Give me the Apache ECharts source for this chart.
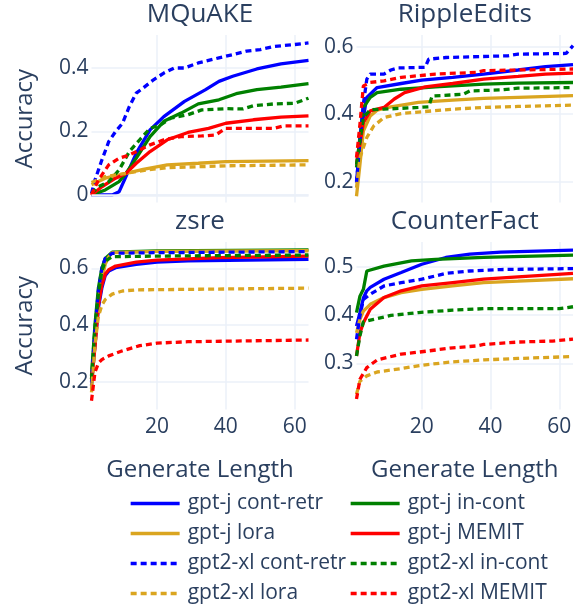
<!DOCTYPE html>
<html>
<head>
<meta charset="utf-8">
<script src="https://cdn.jsdelivr.net/npm/echarts@6.0.0/dist/echarts.min.js"></script>
<style>
  html, body { margin: 0; padding: 0; background: #fff; }
  #chart { width: 580px; height: 610px; }
</style>
</head>
<body>
<div id="chart"></div>
<script>
// 子图标题 / 图例名称
const panelNames = ['MQuAKE', 'RippleEdits', 'zsre', 'CounterFact']
const methods = ['gpt-j cont-retr', 'gpt-j in-cont', 'gpt-j lora', 'gpt-j MEMIT',
  'gpt2-xl cont-retr', 'gpt2-xl in-cont', 'gpt2-xl lora', 'gpt2-xl MEMIT']

// 刻度
const xTicks = [20, 40, 60]
const mqTicks = [0, 0.2, 0.4]
const reTicks = [0.2, 0.4, 0.6]
const zsTicks = [0.2, 0.4, 0.6]
const cfTicks = [0.3, 0.4, 0.5]

// MQuAKE  [generate length, accuracy]
const mqJRetr = [[1, 0], [7, 0], [9, 0.01], [11, 0.058], [14, 0.132], [18, 0.205], [22, 0.247], [28, 0.295], [34, 0.331], [38, 0.358], [42, 0.374], [49, 0.397], [56, 0.413], [64, 0.424]]
const mqJIncont = [[1, 0], [5, 0.016], [9, 0.042], [11, 0.068], [14, 0.116], [18, 0.184], [22, 0.232], [27, 0.258], [32, 0.287], [38, 0.3], [43, 0.319], [49, 0.332], [56, 0.34], [64, 0.351]]
const mqJLora = [[1, 0.032], [5, 0.053], [11, 0.068], [16, 0.081], [23, 0.095], [32, 0.1], [40, 0.105], [64, 0.108]]
const mqJMemit = [[1, 0], [4, 0.026], [8, 0.053], [11, 0.068], [14, 0.1], [18, 0.137], [23, 0.174], [29, 0.197], [35, 0.21], [40, 0.226], [48, 0.237], [56, 0.245], [64, 0.249]]
const mq2Retr = [[1, 0.005], [2, 0.047], [4, 0.11], [6, 0.168], [8, 0.2], [10, 0.226], [12, 0.279], [14, 0.321], [16, 0.337], [19, 0.363], [22, 0.384], [25, 0.4], [28, 0.4], [32, 0.416], [38, 0.432], [42, 0.442], [46, 0.453], [50, 0.458], [54, 0.468], [60, 0.474], [64, 0.479]]
const mq2Incont = [[1, 0.005], [3, 0.026], [6, 0.042], [9, 0.079], [12, 0.137], [15, 0.174], [18, 0.21], [21, 0.221], [24, 0.242], [29, 0.253], [33, 0.268], [40, 0.272], [45, 0.271], [48, 0.281], [54, 0.287], [60, 0.289], [64, 0.305]]
const mq2Lora = [[1, 0.039], [5, 0.058], [11, 0.068], [17, 0.079], [23, 0.086], [32, 0.089], [40, 0.092], [64, 0.095]]
const mq2Memit = [[1, 0], [3, 0.047], [6, 0.095], [9, 0.116], [12, 0.126], [15, 0.142], [18, 0.158], [22, 0.174], [27, 0.184], [33, 0.186], [37, 0.189], [40, 0.21], [46, 0.21], [54, 0.21], [57, 0.218], [64, 0.218]]

// RippleEdits
const reJRetr = [[1, 0.202], [2, 0.3], [3, 0.39], [4, 0.45], [7, 0.479], [14, 0.491], [20, 0.501], [29, 0.509], [38, 0.519], [48, 0.531], [56, 0.541], [64, 0.547]]
const reJIncont = [[1, 0.242], [2, 0.331], [3, 0.42], [5, 0.45], [7, 0.464], [14, 0.474], [24, 0.481], [38, 0.489], [48, 0.492], [64, 0.494]]
const reJLora = [[1, 0.157], [2, 0.251], [3, 0.35], [5, 0.395], [7, 0.412], [11, 0.422], [19, 0.435], [29, 0.442], [38, 0.447], [48, 0.45], [64, 0.455]]
const reJMemit = [[1, 0.251], [2, 0.311], [3, 0.375], [5, 0.41], [9, 0.42], [12, 0.445], [15, 0.464], [21, 0.481], [29, 0.491], [38, 0.504], [48, 0.512], [56, 0.519], [64, 0.522]]
const re2Retr = [[1, 0.197], [2, 0.321], [3, 0.43], [4, 0.504], [5, 0.519], [9, 0.519], [11, 0.531], [13, 0.537], [21, 0.539], [22, 0.563], [27, 0.568], [45, 0.573], [48, 0.578], [62, 0.58], [64, 0.603]]
const re2Incont = [[1, 0.251], [2, 0.321], [3, 0.39], [5, 0.413], [9, 0.415], [19, 0.42], [22, 0.422], [23, 0.454], [32, 0.459], [34, 0.469], [43, 0.472], [48, 0.477], [64, 0.479]]
const re2Lora = [[1, 0.182], [2, 0.271], [4, 0.331], [6, 0.365], [9, 0.39], [14, 0.402], [21, 0.408], [29, 0.415], [38, 0.42], [48, 0.423], [64, 0.427]]
const re2Memit = [[1, 0.271], [2, 0.37], [3, 0.484], [5, 0.494], [9, 0.499], [14, 0.509], [24, 0.519], [36, 0.524], [38, 0.529], [48, 0.531], [64, 0.534]]

// zsre
const zsJRetr = [[1, 0.186], [2, 0.33], [3, 0.46], [4, 0.53], [5, 0.575], [6, 0.59], [8, 0.602], [14, 0.614], [20, 0.622], [29, 0.626], [64, 0.632]]
const zsJIncont = [[1, 0.221], [2, 0.4], [3, 0.53], [4, 0.6], [5, 0.635], [7, 0.657], [20, 0.661], [64, 0.665]]
const zsJLora = [[1, 0.174], [2, 0.34], [3, 0.48], [4, 0.56], [5, 0.615], [6, 0.64], [7, 0.655], [20, 0.66], [64, 0.662]]
const zsJMemit = [[1, 0.209], [2, 0.32], [3, 0.47], [4, 0.54], [5, 0.58], [6, 0.595], [8, 0.608], [14, 0.622], [20, 0.629], [38, 0.638], [64, 0.643]]
const zs2Retr = [[1, 0.198], [2, 0.38], [3, 0.52], [4, 0.6], [5, 0.635], [7, 0.653], [19, 0.655], [64, 0.659]]
const zs2Incont = [[1, 0.209], [2, 0.39], [3, 0.51], [4, 0.59], [5, 0.625], [7, 0.641], [19, 0.643], [64, 0.647]]
const zs2Lora = [[1, 0.162], [2, 0.33], [3, 0.43], [4, 0.47], [5, 0.49], [7, 0.509], [10, 0.52], [14, 0.524], [64, 0.53]]
const zs2Memit = [[1, 0.133], [2, 0.233], [3, 0.265], [4, 0.278], [6, 0.291], [10, 0.309], [15, 0.327], [20, 0.336], [29, 0.341], [64, 0.347]]

// CounterFact
const cfJRetr = [[1, 0.377], [2, 0.405], [3, 0.435], [4, 0.45], [5, 0.457], [9, 0.474], [14, 0.488], [20, 0.505], [27, 0.519], [34, 0.526], [43, 0.53], [64, 0.534]]
const cfJIncont = [[1, 0.405], [2, 0.439], [3, 0.453], [4, 0.491], [9, 0.501], [17, 0.512], [24, 0.515], [38, 0.519], [64, 0.524]]
const cfJLora = [[1, 0.363], [2, 0.391], [3, 0.408], [5, 0.422], [9, 0.436], [14, 0.446], [20, 0.453], [29, 0.46], [38, 0.467], [48, 0.47], [64, 0.475]]
const cfJMemit = [[1, 0.315], [2, 0.363], [3, 0.384], [5, 0.412], [9, 0.436], [14, 0.45], [20, 0.46], [29, 0.467], [38, 0.474], [48, 0.479], [64, 0.486]]
const cf2Retr = [[1, 0.35], [2, 0.398], [3, 0.432], [5, 0.443], [9, 0.46], [14, 0.467], [20, 0.474], [27, 0.486], [34, 0.491], [43, 0.494], [64, 0.496]]
const cf2Incont = [[1, 0.315], [2, 0.357], [3, 0.386], [6, 0.391], [11, 0.399], [19, 0.405], [29, 0.41], [38, 0.413], [60, 0.413], [64, 0.417]]
const cf2Lora = [[1, 0.236], [2, 0.263], [4, 0.274], [7, 0.282], [14, 0.289], [20, 0.296], [29, 0.303], [38, 0.307], [48, 0.31], [64, 0.314]]
const cf2Memit = [[1, 0.226], [2, 0.267], [4, 0.291], [7, 0.307], [14, 0.319], [19, 0.323], [29, 0.332], [36, 0.336], [38, 0.339], [48, 0.344], [58, 0.346], [64, 0.35]]

const panelSeries = [
  [mqJRetr, mqJIncont, mqJLora, mqJMemit, mq2Retr, mq2Incont, mq2Lora, mq2Memit],
  [reJRetr, reJIncont, reJLora, reJMemit, re2Retr, re2Incont, re2Lora, re2Memit],
  [zsJRetr, zsJIncont, zsJLora, zsJMemit, zs2Retr, zs2Incont, zs2Lora, zs2Memit],
  [cfJRetr, cfJIncont, cfJLora, cfJMemit, cf2Retr, cf2Incont, cf2Lora, cf2Memit]
]
const panelTicks = [mqTicks, reTicks, zsTicks, cfTicks]

// 布局
const textColor = '#2a3f5f'
const gridColor = '#ebf0f8'
const font = 'Open Sans'
const lineColors = ['#0000ff', '#008000', '#daa520', '#ff0000']
const grids = [
  {left: 91.5, top: 35, width: 217, height: 167.5},
  {left: 356.5, top: 35, width: 216.5, height: 167.5},
  {left: 91.5, top: 242, width: 217, height: 167.5},
  {left: 356.5, top: 242, width: 216.5, height: 167.5}
]
const yRanges = [[-0.0236, 0.504], [0.1384, 0.6347], [0.1019, 0.6928], [0.2044, 0.551]]

const xAxis = grids.map((g, i) => ({
  type: 'value',
  gridIndex: i,
  min: 1,
  max: 64,
  name: i >= 2 ? 'Generate Length' : '',
  nameLocation: 'middle',
  nameGap: 49,
  nameTextStyle: {color: textColor, fontFamily: font, fontSize: 24},
  axisLine: {show: false},
  axisTick: {show: false, customValues: xTicks},
  axisLabel: {show: i >= 2, customValues: xTicks, color: textColor, fontFamily: font, fontSize: 21, margin: 7},
  splitLine: {show: true, lineStyle: {color: gridColor, width: 1.5}}
}))

const yAxis = grids.map((g, i) => ({
  type: 'value',
  gridIndex: i,
  min: yRanges[i][0],
  max: yRanges[i][1],
  name: i % 2 === 0 ? 'Accuracy' : '',
  nameLocation: 'middle',
  nameGap: 54,
  nameTextStyle: {color: textColor, fontFamily: font, fontSize: 24},
  axisLine: {show: false},
  axisTick: {show: false, customValues: panelTicks[i]},
  axisLabel: {customValues: panelTicks[i], color: textColor, fontFamily: font, fontSize: 21, margin: 3},
  splitLine: {show: true, lineStyle: {color: gridColor, width: 1.5}}
}))

const series = []
// MQuAKE 的 0 线（比网格线粗一点）
series.push({
  type: 'line',
  xAxisIndex: 0,
  yAxisIndex: 0,
  data: [],
  z: 1,
  silent: true,
  markLine: {
    silent: true,
    symbol: 'none',
    label: {show: false},
    lineStyle: {color: gridColor, width: 2.5, type: 'solid'},
    data: [{yAxis: 0}]
  }
})
panelSeries.forEach((list, p) => {
  list.forEach((data, k) => {
    series.push({
      name: methods[k],
      type: 'line',
      xAxisIndex: p,
      yAxisIndex: p,
      data: data,
      symbol: 'none',
      showSymbol: false,
      silent: true,
      animation: false,
      lineStyle: {
        color: lineColors[k % 4],
        width: 3.3,
        type: k < 4 ? 'solid' : [6, 4]
      },
      itemStyle: {color: lineColors[k % 4]}
    })
  })
})

// 子图标题
const titles = panelNames.map((name, i) => ({
  type: 'text',
  x: grids[i].left + grids[i].width / 2,
  y: grids[i].top - 20,
  style: {
    text: name,
    fill: textColor,
    font: '26px "Open Sans"',
    align: 'center',
    verticalAlign: 'middle'
  }
}))

const legendBase = {
  orient: 'vertical',
  top: 493,
  padding: 0,
  itemWidth: 49,
  itemHeight: 14,
  itemGap: 9,
  selectedMode: false,
  itemStyle: {opacity: 0},
  lineStyle: {width: 3.3},
  textStyle: {color: textColor, fontFamily: font, fontSize: 21, lineHeight: 21, padding: [0, 0, 0, 3]}
}

const chart = echarts.init(document.getElementById('chart'))
chart.setOption({
  animation: false,
  backgroundColor: '#fff',
  grid: grids,
  xAxis: xAxis,
  yAxis: yAxis,
  legend: [
    Object.assign({}, legendBase, {left: 129, data: [methods[0], methods[2], methods[4], methods[6]]}),
    Object.assign({}, legendBase, {
      left: 349,
      data: [methods[1], methods[3], methods[5], methods[7]],
      textStyle: Object.assign({}, legendBase.textStyle, {width: 146, overflow: 'truncate', ellipsis: ''})
    })
  ],
  graphic: titles,
  series: series
})
</script>
</body>
</html>
